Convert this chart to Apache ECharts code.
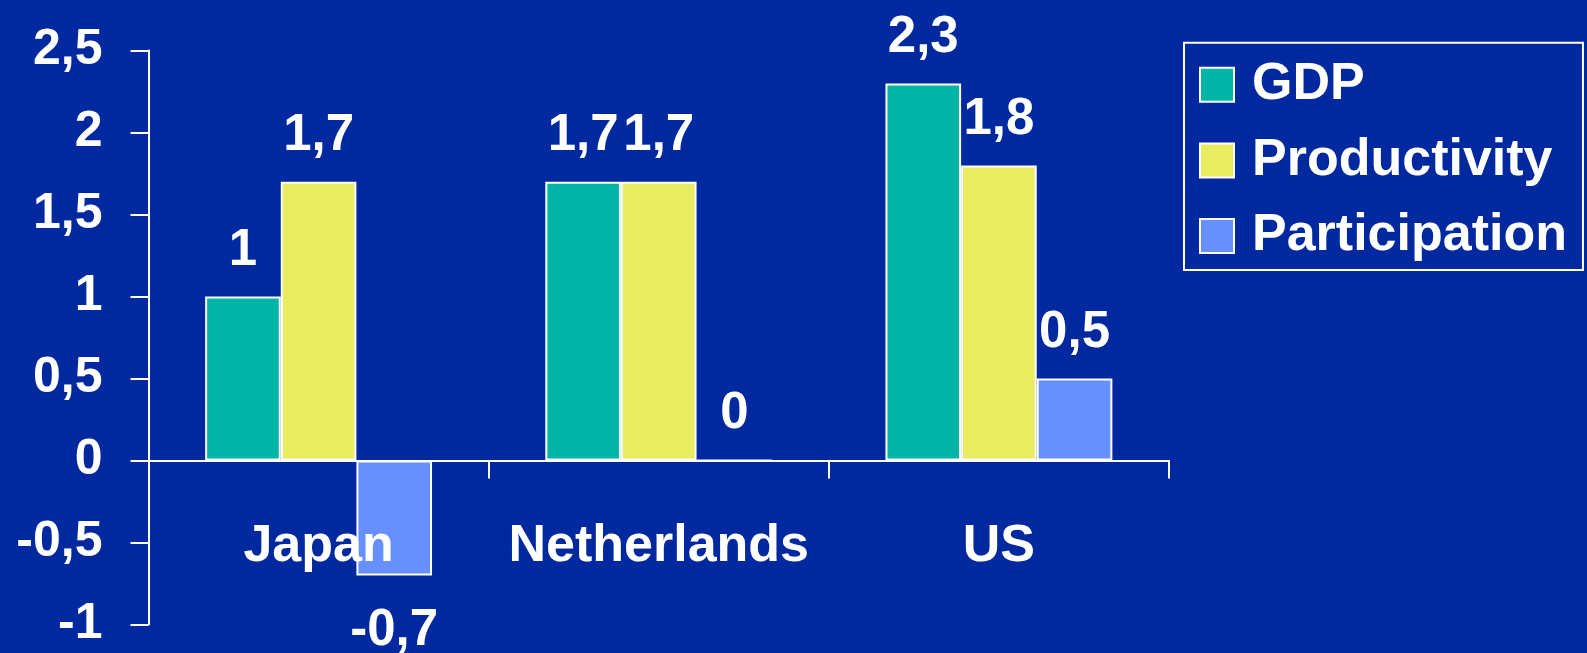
<!DOCTYPE html>
<html>
<head>
<meta charset="utf-8">
<script src="https://cdn.jsdelivr.net/npm/echarts@6/dist/echarts.min.js"></script>
<style>
  html, body { margin: 0; padding: 0; background: #00289f; }
  #chart { width: 1587px; height: 653px; }
</style>
</head>
<body>
<div id="chart"></div>
<script>
// Growth decomposition by country
const categories = ['Japan', 'Netherlands', 'US'];
const seriesNames = ['GDP', 'Productivity', 'Participation'];
const gdp = [1, 1.7, 2.3];
const productivity = [1.7, 1.7, 1.8];
const participation = [-0.7, 0, 0.5];
const yTicks = [-1, -0.5, 0, 0.5, 1, 1.5, 2, 2.5];

const FONT = '"Liberation Sans", Arial, sans-serif';
const colors = ['#00b5a5', '#e9eb60', '#6690ff'];
const comma = v => String(v).replace('.', ',');

function barSeries(name, values, color) {
  return {
    name: name,
    type: 'bar',
    barGap: 0,
    barCategoryGap: '33.3%',
    itemStyle: { color: color, borderColor: '#ffffff', borderWidth: 2 },
    data: values.map(v => ({
      value: v,
      label: v < 0 ? { position: 'bottom', distance: 30 } : { position: 'top', distance: 20 }
    })),
    label: {
      show: true,
      color: '#ffffff',
      fontFamily: FONT,
      fontWeight: 'bold',
      fontSize: 51,
      formatter: p => comma(p.value)
    },
    labelLayout: { hideOverlap: false }
  };
}

const catLabel = {
  interval: 0,
  hideOverlap: false,
  color: '#ffffff',
  fontFamily: FONT,
  fontWeight: 'bold',
  fontSize: 52
};

const chart = echarts.init(document.getElementById('chart'));
chart.setOption({
  backgroundColor: '#00289f',
  animation: false,
  grid: {
    left: 148.5, right: 418, top: 50.6, bottom: 28.4,
    containLabel: false,
    outerBoundsMode: 'none'
  },
  legend: {
    orient: 'vertical',
    left: 1184,
    top: 42.7,
    padding: [16, 16, 8, 15],
    itemWidth: 34,
    itemHeight: 34,
    itemGap: 23.7,
    borderColor: '#ffffff',
    borderWidth: 2,
    icon: 'rect',
    data: seriesNames,
    textStyle: {
      color: '#ffffff',
      fontFamily: FONT,
      fontWeight: 'bold',
      fontSize: 52,
      padding: [0, 0, 0, 13]
    }
  },
  xAxis: [
    {
      // axis line and ticks along the zero line
      type: 'category',
      data: categories,
      axisLine: { onZero: true, lineStyle: { color: '#ffffff', width: 2 } },
      axisTick: { show: true, interval: 0, length: 18, lineStyle: { color: '#ffffff', width: 2 } },
      axisLabel: { show: false },
      splitLine: { show: false }
    },
    {
      // category names, set just below the zero line and drawn over the bars
      type: 'category',
      data: categories,
      position: 'bottom',
      offset: -164,
      z: 10,
      axisLine: { show: false, onZero: false },
      axisTick: { show: false },
      axisLabel: Object.assign({ margin: 60 }, catLabel),
      splitLine: { show: false }
    }
  ],
  yAxis: {
    type: 'value',
    min: yTicks[0],
    max: yTicks[yTicks.length - 1],
    interval: 0.5,
    axisLine: { show: true, onZero: false, lineStyle: { color: '#ffffff', width: 2 } },
    axisTick: { show: true, length: 18, lineStyle: { color: '#ffffff', width: 2 } },
    axisLabel: {
      margin: 46,
      color: '#ffffff',
      fontFamily: FONT,
      fontWeight: 'bold',
      fontSize: 50,
      formatter: v => comma(v)
    },
    splitLine: { show: false }
  },
  series: [
    barSeries(seriesNames[0], gdp, colors[0]),
    barSeries(seriesNames[1], productivity, colors[1]),
    barSeries(seriesNames[2], participation, colors[2])
  ]
});
</script>
</body>
</html>
